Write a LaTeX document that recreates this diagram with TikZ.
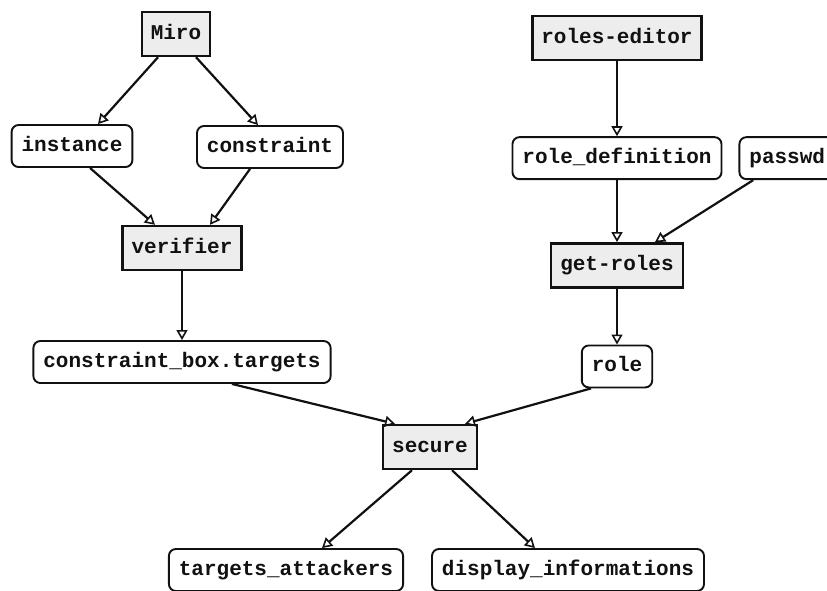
\documentclass[tikz,border=0pt]{standalone}
\usepackage{fontspec}
\setmonofont{Liberation Mono}
\usetikzlibrary{arrows.meta, positioning}
\definecolor{inkBlack}{HTML}{111111}
\definecolor{procShade}{HTML}{EDEDED}

\begin{document}
\begin{tikzpicture}[x=1pt, y=-1pt,
  every node/.style={font=\ttfamily\bfseries\fontsize{21}{24}\selectfont, text=inkBlack, text height=14pt, text depth=4pt},
  procNode/.style={draw=inkBlack, fill=procShade, line width=2.4pt, minimum height=44pt, inner xsep=9pt},
  dataNode/.style={draw=inkBlack, fill=white, rounded corners=7pt, line width=1.9pt, minimum height=42pt, inner xsep=10pt},
  flow/.style={draw=inkBlack, line width=2.2pt, -{Triangle[open, length=10pt, width=11pt, line width=1.6pt]}}
]
  \useasboundingbox (0,0) rectangle (827,590);

  % left branch: model checking side
  \node[procNode] (miro) at (176,34) {Miro};
  \node[dataNode] (instance) at (72,146) {instance};
  \node[dataNode] (constraint) at (270,147) {constraint};
  \node[procNode] (verifier) at (182,248) {verifier};
  \node[dataNode] (cbTargets) at (182,362) {constraint\_box.targets};

  % right branch: roles side
  \node[procNode] (rolesEditor) at (617,38) {roles-editor};
  \node[dataNode, below=75pt of rolesEditor] (roleDef) {role\_definition};
  \node[dataNode, right=16pt of roleDef] (passwd) {passwd};
  \node[procNode, below=62pt of roleDef] (getRoles) {get-roles};
  \node[dataNode, below=56pt of getRoles] (role) {role};

  % merge and outputs
  \node[procNode] (secure) at (430,447) {secure};
  \node[dataNode] (targetsAtt) at (286,570) {targets\_attackers};
  \node[dataNode] (displayInfo) at (568,570) {display\_informations};

  \draw[flow] ([xshift=-18pt]miro.south) -- ([xshift=26pt]instance.north);
  \draw[flow] ([xshift=20pt]miro.south) -- ([xshift=-12pt]constraint.north);
  \draw[flow] ([xshift=18pt]instance.south) -- ([xshift=-27pt]verifier.north);
  \draw[flow] ([xshift=-20pt]constraint.south) -- ([xshift=28pt]verifier.north);
  \draw[flow] (verifier.south) -- (cbTargets.north);

  \draw[flow] (rolesEditor.south) -- (roleDef.north);
  \draw[flow] (roleDef.south) -- (getRoles.north);
  \draw[flow] ([xshift=-34pt]passwd.south) -- ([xshift=38pt]getRoles.north);
  \draw[flow] (getRoles.south) -- (role.north);

  \draw[flow] ([xshift=50pt]cbTargets.south) -- ([xshift=-35pt]secure.north);
  \draw[flow] ([xshift=-26pt]role.south) -- ([xshift=35pt]secure.north);
  \draw[flow] ([xshift=-18pt]secure.south) -- ([xshift=36pt]targetsAtt.north);
  \draw[flow] ([xshift=22pt]secure.south) -- ([xshift=-33pt]displayInfo.north);
\end{tikzpicture}
\end{document}
